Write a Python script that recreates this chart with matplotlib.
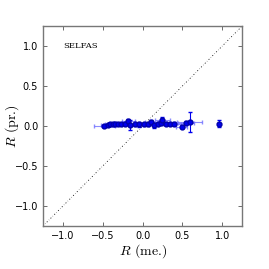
import matplotlib
matplotlib.use("Agg")
import matplotlib.pyplot as plt
import numpy as np

plt.rcParams['mathtext.fontset'] = 'cm'

x_meas = [-0.48, -0.44, -0.41, -0.37, -0.35, -0.31, -0.27, -0.22, -0.18, -0.16,
          -0.10, -0.04, 0.02, 0.07, 0.11, 0.14, 0.19, 0.23, 0.25, 0.30,
          0.34, 0.40, 0.49, 0.55, 0.59, 0.96]
y_pred = [0.00, 0.01, 0.02, 0.02, 0.03, 0.02, 0.02, 0.03, 0.06, 0.01,
          0.02, 0.02, 0.02, 0.02, 0.05, 0.01, 0.03, 0.04, 0.08, 0.03,
          0.02, 0.03, -0.01, 0.04, 0.05, 0.03]
x_err = [0.13, 0.08, 0.06, 0.07, 0.08, 0.06, 0.07, 0.07, 0.08, 0.10,
         0.07, 0.06, 0.07, 0.06, 0.08, 0.06, 0.07, 0.08, 0.09, 0.07,
         0.06, 0.08, 0.07, 0.10, 0.16, 0.00]
y_err = [0.01, 0.01, 0.02, 0.02, 0.02, 0.01, 0.01, 0.02, 0.03, 0.06,
         0.02, 0.03, 0.02, 0.02, 0.03, 0.03, 0.02, 0.02, 0.03, 0.02,
         0.01, 0.02, 0.02, 0.02, 0.12, 0.04]
label = "SELFAS"

fig = plt.figure(figsize=(2.69, 2.69), dpi=100)
ax = fig.add_axes([0.16, 0.16, 0.74, 0.743])

ax.plot([-1.25, 1.25], [-1.25, 1.25], color='k', linewidth=0.6,
        linestyle=(0, (1.2, 2.4, 0.4, 2.4)))
ax.errorbar(x_meas, y_pred, xerr=x_err, fmt='none', ecolor='#6f6fff',
            elinewidth=0.8, capsize=1.5, alpha=0.8)
ax.errorbar(x_meas, y_pred, yerr=y_err, fmt='o', color='#0000ee',
            markersize=3.5, elinewidth=0.8, capsize=1.5, markeredgecolor='#0000aa')

ax.set_xlim(-1.25, 1.25)
ax.set_ylim(-1.25, 1.25)
ax.set_xticks([-1.0, -0.5, 0.0, 0.5, 1.0])
ax.set_yticks([-1.0, -0.5, 0.0, 0.5, 1.0])
ax.tick_params(direction='in', top=True, right=True, labelsize=7,
               length=3, width=0.6, color='#555555')
for s in ax.spines.values():
    s.set_color('#777777')
    s.set_linewidth(1.0)

ax.text(-1.0, 1.0, label, fontsize=6, family='DejaVu Serif', va='center')
ax.set_xlabel(r'$R$ (me.)', fontsize=10, family='cmr10')
ax.set_ylabel(r'$R$ (pr.)', fontsize=10, family='cmr10')
ax.xaxis.set_label_coords(0.5, -0.08)
ax.yaxis.set_label_coords(-0.11, 0.5)

fig.savefig('out.png', dpi=100)
